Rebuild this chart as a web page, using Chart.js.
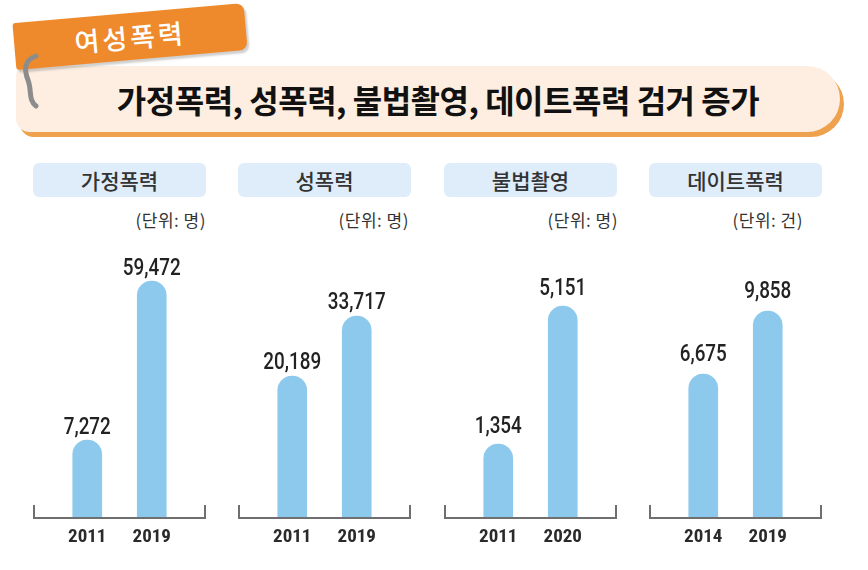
<!DOCTYPE html>
<html><head><meta charset="utf-8">
<script src="https://cdn.jsdelivr.net/npm/chart.js@4"></script>
<style>
body{margin:0;width:868px;height:570px;background:#fff;position:relative;overflow:hidden;font-family:"Noto Sans CJK KR","Noto Sans",sans-serif;}
.tab{position:absolute;left:14px;top:13px;width:232px;height:47px;background:#ee8a2b;border-radius:3px 8px 8px 3px;transform:rotate(-5deg);transform-origin:50% 50%;box-shadow:2px 3px 2px rgba(120,120,120,0.35);color:#fff;font-size:27px;font-weight:500;line-height:47px;text-align:center;letter-spacing:3px;z-index:3;}
.banner{position:absolute;left:16px;top:66px;width:824px;height:66px;background:#fdeee1;border-radius:10px 34px 34px 14px;box-shadow:4px 5px 0 #efa24d;z-index:2;}
.title{position:absolute;left:0;top:66px;width:876px;height:66px;line-height:66px;text-align:center;font-size:32px;font-weight:700;color:#111;z-index:4;letter-spacing:-0.5px;}
.hook{position:absolute;left:16px;top:50px;z-index:5;}
.head{position:absolute;top:163px;width:173px;height:34px;background:#deedf9;border-radius:6px;text-align:center;line-height:34px;font-size:21px;font-weight:500;color:#333;}
.unit{position:absolute;top:208px;font-size:17px;line-height:24px;color:#333;text-align:right;width:130px;letter-spacing:0.5px;}
canvas{position:absolute;}
</style></head>
<body>
<div class="tab">여성폭력</div>
<div class="banner"></div>
<div class="title">가정폭력, 성폭력, 불법촬영, 데이트폭력 검거 증가</div>
<svg class="hook" width="30" height="64" viewBox="0 0 30 64"><path d="M20 6 C8 10 8 20 12 30 C16 40 12 50 20 56" fill="none" stroke="#8c8c8c" stroke-width="5" stroke-linecap="round"/></svg>
<div id="panels"></div>
<script>
// ---- data ----
const panelTitles = ['가정폭력', '성폭력', '불법촬영', '데이트폭력'];
const unitLabels = ['(단위: 명)', '(단위: 명)', '(단위: 명)', '(단위: 건)'];
const domesticYears = ['2011', '2019'];
const domesticValues = [7272, 59472];
const sexualYears = ['2011', '2019'];
const sexualValues = [20189, 33717];
const cameraYears = ['2011', '2020'];
const cameraValues = [1354, 5151];
const datingYears = ['2014', '2019'];
const datingValues = [6675, 9858];
// value-axis ranges of each panel (pictorial scaling as in the original)
const axisMin = [-18335, -11828, -682, -600];
const axisMax = [76215, 53109, 7242, 13951];

// ---- layout / style ----
const panelLefts = [33, 238, 444, 649];
const unitRights = [206, 409, 618, 803];
const labelGaps = [6, 7, 11, 13];
const panelWidth = 173;
const canvasTop = 230, canvasHeight = 320, xAxisHeight = 32;

const yearsList = [domesticYears, sexualYears, cameraYears, datingYears];
const valuesList = [domesticValues, sexualValues, cameraValues, datingValues];

const container = document.getElementById('panels');

const bracketPlugin = {
  id: 'bracket',
  afterDatasetsDraw(chart) {
    const ctx = chart.ctx, a = chart.chartArea, w = chart.width;
    ctx.save();
    ctx.strokeStyle = '#6f6f6f';
    ctx.lineWidth = 2;
    ctx.beginPath();
    ctx.moveTo(1, a.bottom - 13);
    ctx.lineTo(1, a.bottom);
    ctx.lineTo(w - 1, a.bottom);
    ctx.lineTo(w - 1, a.bottom - 13);
    ctx.stroke();
    ctx.restore();
  }
};
const valueLabelPlugin = {
  id: 'valueLabels',
  afterDatasetsDraw(chart, args, opts) {
    const ctx = chart.ctx;
    const meta = chart.getDatasetMeta(0);
    const data = chart.data.datasets[0].data;
    const sx = 0.82;
    meta.data.forEach((bar, i) => {
      ctx.save();
      ctx.fillStyle = '#222';
      ctx.font = '500 23px "Roboto", sans-serif';
      ctx.textAlign = 'center';
      ctx.textBaseline = 'alphabetic';
      ctx.translate(bar.x, bar.y - opts.gap);
      ctx.scale(sx, 1);
      ctx.fillText(data[i].toLocaleString('en-US'), 0, 0);
      ctx.restore();
    });
  }
};

for (let p = 0; p < 4; p++) {
  const head = document.createElement('div');
  head.className = 'head';
  head.style.left = panelLefts[p] + 'px';
  head.textContent = panelTitles[p];
  container.appendChild(head);

  const unit = document.createElement('div');
  unit.className = 'unit';
  unit.style.left = (unitRights[p] - 130) + 'px';
  unit.textContent = unitLabels[p];
  container.appendChild(unit);

  const cv = document.createElement('canvas');
  cv.style.left = panelLefts[p] + 'px';
  cv.style.top = canvasTop + 'px';
  cv.style.width = panelWidth + 'px';
  cv.style.height = canvasHeight + 'px';
  cv.width = panelWidth; cv.height = canvasHeight;
  container.appendChild(cv);

  new Chart(cv, {
    type: 'bar',
    data: {
      labels: yearsList[p],
      datasets: [{
        data: valuesList[p],
        backgroundColor: '#8dc9ec',
        barThickness: 29,
        borderRadius: 15,
        base: axisMin[p]
      }]
    },
    options: {
      responsive: false,
      animation: false,
      events: [],
      layout: { padding: { left: 22, right: 22, top: 0, bottom: 0 } },
      plugins: {
        legend: { display: false },
        tooltip: { enabled: false },
        valueLabels: { gap: labelGaps[p] }
      },
      scales: {
        x: {
          grid: { display: false, drawTicks: false },
          border: { display: false },
          ticks: {
            padding: 8,
            color: '#2a2a2a',
            font: { family: '"Roboto Condensed", "Roboto", sans-serif', size: 19, weight: 'bold' }
          },
          afterFit(s) { s.height = xAxisHeight; }
        },
        y: {
          display: false,
          min: axisMin[p],
          max: axisMax[p]
        }
      }
    },
    plugins: [bracketPlugin, valueLabelPlugin]
  });
}
</script>
</body></html>
